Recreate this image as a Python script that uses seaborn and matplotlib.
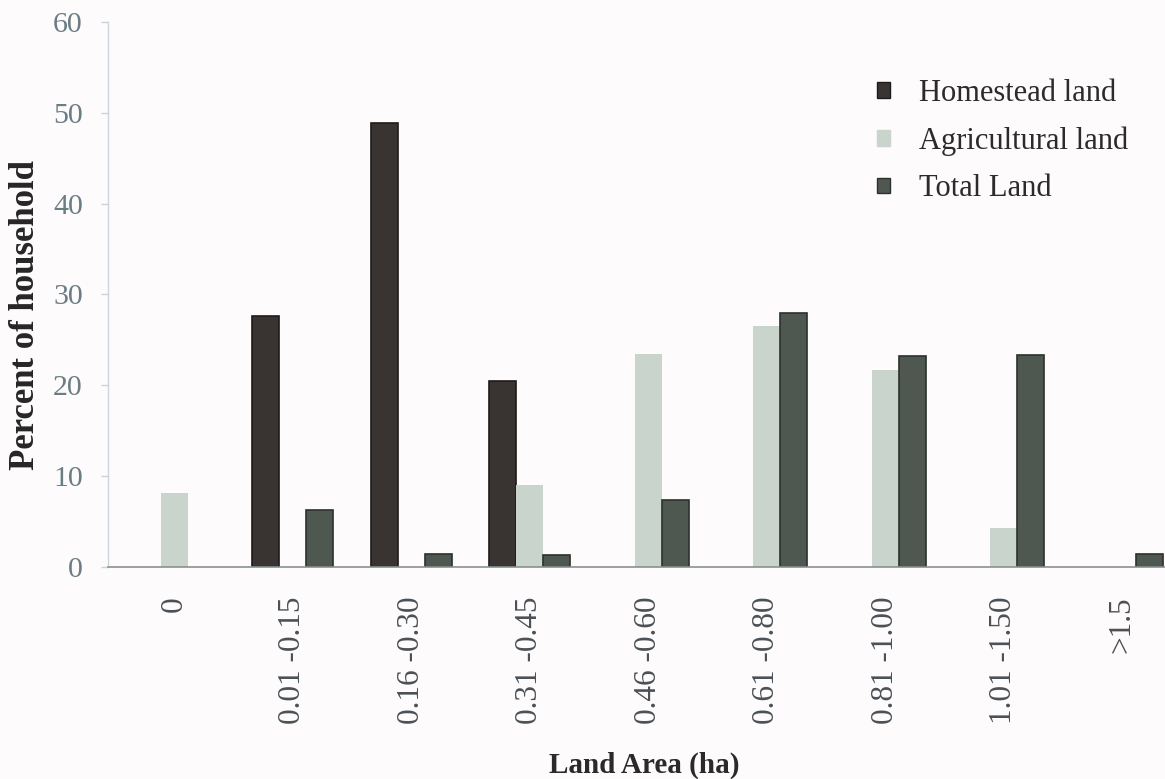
import numpy as np
import pandas as pd
import matplotlib
matplotlib.use("Agg")
import matplotlib.pyplot as plt
from matplotlib.patches import Patch
from matplotlib.ticker import FixedLocator
import seaborn as sns

# Land-holding classes (ha) and share of households in each
categories = ["0", "0.01 -0.15", "0.16 -0.30", "0.31 -0.45", "0.46 -0.60",
              "0.61 -0.80", "0.81 -1.00", "1.01 -1.50", ">1.5"]
series_names = ["Homestead land", "Agricultural land", "Total Land"]
homestead = [0, 27.6, 48.9, 20.5, 0, 0, 0, 0, 0]
agricultural = [8.1, 0, 0, 9.0, 23.5, 26.5, 21.7, 4.3, 0]
total_land = [0, 6.3, 1.4, 1.3, 7.4, 28.0, 23.2, 23.3, 1.4]
y_ticks = [0, 10, 20, 30, 40, 50, 60]

colors = ["#393431", "#c9d4cd", "#4f5751"]
edges = ["#1e1b1a", "none", "#2c312d"]

df = pd.DataFrame({
    "Land Area": categories * 3,
    "Series": np.repeat(series_names, len(categories)),
    "Percent": homestead + agricultural + total_land,
})

sns.set_style("white")
plt.rcParams["font.family"] = ["Liberation Serif", "DejaVu Serif"]

fig = plt.figure(figsize=(11.65, 7.79), dpi=100)
fig.patch.set_facecolor("#fdfbfb")
ax = fig.add_axes([108 / 1165, 1 - 567 / 779, 1057 / 1165, 545 / 779])
ax.set_facecolor("none")

sns.barplot(data=df, x="Land Area", y="Percent", hue="Series",
            hue_order=series_names, order=categories,
            palette=colors, width=0.68, saturation=1, ax=ax, legend=False)

# empty classes get no visible bar
for cont, ec in zip(ax.containers, edges):
    for bar in cont:
        if bar.get_height() == 0:
            bar.set_visible(False)
            continue
        if ec == "none":
            bar.set_edgecolor("none")
        else:
            bar.set_edgecolor(ec)
            bar.set_linewidth(1.2)

ax.set_xlim(-0.559, 8.36)
ax.set_ylim(0, 60)
ax.set_yticks(y_ticks)
ax.set_yticklabels([str(v) for v in y_ticks], fontsize=21.5, color="#6b7c84")

ax.set_xticks(range(len(categories)))
ax.set_xticklabels(categories, rotation=90, fontsize=22.5, color="#4a5156",
                   va="top", ha="center")
ax.xaxis.set_minor_locator(FixedLocator(np.arange(0.5, len(categories), 1)))
ax.tick_params(axis="x", which="major", length=0, pad=21)
ax.tick_params(axis="x", which="minor", length=5, color="#8a9191", width=1)
ax.tick_params(axis="y", which="major", length=5, color="#c9d3d8", width=1,
               pad=13, left=True)

for side in ["top", "right"]:
    ax.spines[side].set_visible(False)
ax.spines["left"].set_color("#cdd6da")
ax.spines["left"].set_linewidth(1.0)
ax.spines["bottom"].set_color("#8a9191")
ax.spines["bottom"].set_linewidth(1.2)

ax.set_ylabel("Percent of household", fontsize=25, fontweight="bold",
              color="#262626")
ax.yaxis.set_label_coords((26 - 108) / 1057, 0.462)
ax.yaxis.label.set_va("center")

ax.set_xlabel("Land Area (ha)", fontsize=21, fontweight="bold",
              color="#2a2a2a")
ax.xaxis.set_label_coords((644 - 108) / 1057, -0.378)
ax.xaxis.label.set_va("baseline")

handles = [Patch(facecolor=c, edgecolor=(e if e != "none" else c), linewidth=1)
           for c, e in zip(colors, edges)]
leg = ax.legend(handles, series_names, loc="upper left",
                bbox_to_anchor=(862 / 1165, 1 - 64 / 779),
                bbox_transform=fig.transFigure, frameon=False, fontsize=22,
                handlelength=0.42, handleheight=0.42, handletextpad=0.95,
                labelspacing=0.6, borderpad=0)
for t in leg.get_texts():
    t.set_color("#2b2b2b")

fig.savefig("out.png", dpi=100, facecolor=fig.get_facecolor())
